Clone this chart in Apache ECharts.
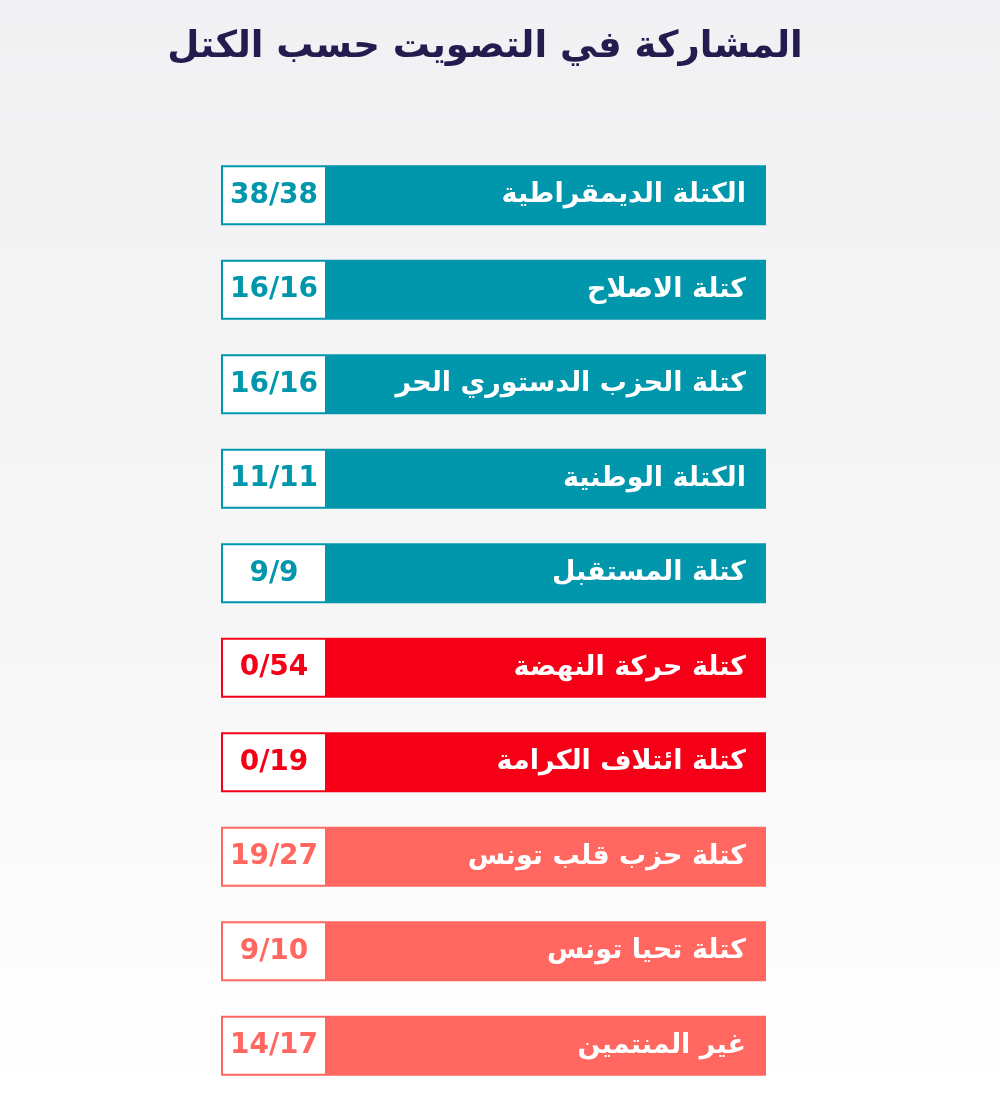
<!DOCTYPE html>
<html><head><meta charset="utf-8">
<script src="https://cdn.jsdelivr.net/npm/echarts@6/dist/echarts.min.js"></script>
<style>html,body{margin:0;padding:0;}#c{width:1000px;height:1095px;background:linear-gradient(180deg,#f1f0f2 0%,#f7f7f8 60%,#ffffff 100%);}</style>
</head><body><div id="c"></div>
<script>
const blocs = ["الكتلة الديمقراطية","كتلة الاصلاح","كتلة الحزب الدستوري الحر","الكتلة الوطنية","كتلة المستقبل","كتلة حركة النهضة","كتلة ائتلاف الكرامة","كتلة حزب قلب تونس","كتلة تحيا تونس","غير المنتمين"];
const voted = [38,16,16,11,9,0,0,19,9,14];
const totals = [38,16,16,11,9,54,19,27,10,17];
const groups = ["full","full","full","full","full","none","none","partial","partial","partial"];
const groupColors = {full:"#0096ac", none:"#f50016", partial:"#ff6760"};
const boxShare = 0.1945;
const font = "DejaVu Sans";
const chart = echarts.init(document.getElementById('c'));
chart.setOption({
  title:{text:"المشاركة في التصويت حسب الكتل",left:480,top:24,textAlign:'center',textStyle:{fontFamily:font,fontSize:37,fontWeight:'bold',color:'#231c4f'}},
  grid:{left:221,right:234,top:148,bottom:2},
  xAxis:{type:'value',min:0,max:1,show:false},
  yAxis:{type:'category',inverse:true,data:blocs,show:false},
  series:[
    {type:'bar',stack:'s',barWidth:60,silent:true,
     data:blocs.map((b,i)=>({value:boxShare,itemStyle:{color:'#ffffff',borderColor:groupColors[groups[i]],borderWidth:2},
       label:{show:true,position:'inside',formatter:voted[i]+'/'+totals[i],color:groupColors[groups[i]],fontFamily:font,fontSize:28,fontWeight:'bold'}}))},
    {type:'bar',stack:'s',barWidth:60,silent:true,
     data:blocs.map((b,i)=>({value:1-boxShare,itemStyle:{color:groupColors[groups[i]]},
       label:{show:true,position:'insideRight',distance:20,formatter:b,color:'#ffffff',fontFamily:font,fontSize:27,fontWeight:'bold'}}))}
  ]
});
</script></body></html>
